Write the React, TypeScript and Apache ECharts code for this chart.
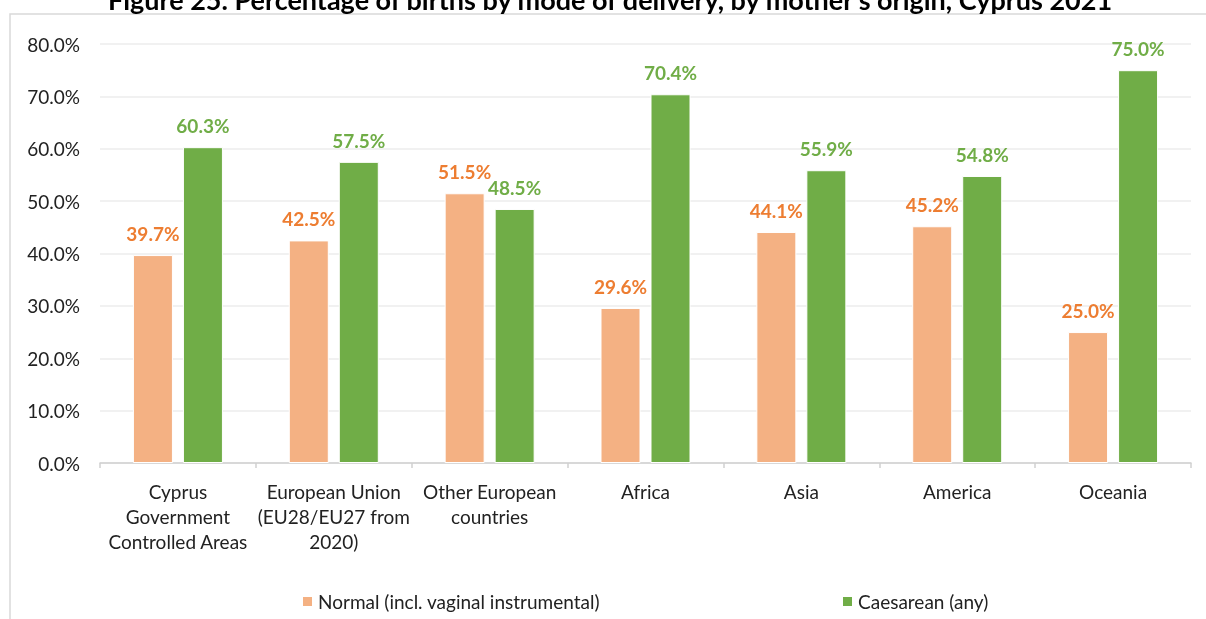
import React, { useEffect, useRef } from "react";
import * as echarts from "echarts";

const categories = [
  "Cyprus\nGovernment\nControlled Areas",
  "European Union\n(EU28/EU27 from\n2020)",
  "Other European\ncountries",
  "Africa",
  "Asia",
  "America",
  "Oceania",
];
const normalValues = [39.7, 42.5, 51.5, 29.6, 44.1, 45.2, 25.0];
const caesareanValues = [60.3, 57.5, 48.5, 70.4, 55.9, 54.8, 75.0];
const seriesNames = ["Normal (incl. vaginal instrumental)", "Caesarean (any)"];
const titleText = "Figure 25. Percentage of births by mode of delivery, by mother's origin, Cyprus 2021";

const FONT = "Lato, 'Noto Sans', sans-serif";

export default function App() {
  const ref = useRef<HTMLDivElement>(null);
  useEffect(() => {
    if (!ref.current) return;
    const chart = echarts.init(ref.current, null, { renderer: "svg" });
    chart.setOption({
      animation: false,
      textStyle: { fontFamily: FONT },
      graphic: [
        {
          type: "rect",
          shape: { x: 10, y: 14, width: 1300, height: 700 },
          style: { fill: "none", stroke: "#d9d9d9", lineWidth: 1.5 },
          silent: true,
          z: -1,
        },
        {
          type: "text",
          x: 610,
          y: -1,
          style: {
            text: titleText,
            fontFamily: FONT,
            fontWeight: "bold",
            fontSize: 27,
            fill: "#000",
            align: "center",
            verticalAlign: "middle",
          },
        },
      ],
      legend: [
        {
          data: [seriesNames[0]],
          left: 296,
          top: 587,
          itemWidth: 11,
          itemHeight: 11,
          itemGap: 6,
          textStyle: { fontFamily: FONT, fontSize: 19, color: "#222" },
          icon: "rect",
        },
        {
          data: [seriesNames[1]],
          left: 836,
          top: 587,
          itemWidth: 11,
          itemHeight: 11,
          itemGap: 6,
          textStyle: { fontFamily: FONT, fontSize: 19, color: "#222" },
          icon: "rect",
        },
      ],
      grid: { left: 100, right: 15, top: 44, bottom: 156, containLabel: false },
      xAxis: {
        type: "category",
        data: categories,
        axisLine: { lineStyle: { color: "#d0d0d0", width: 1.5 } },
        axisTick: { show: true, length: 5, lineStyle: { color: "#d0d0d0", width: 1.5 } },
        axisLabel: {
          interval: 0,
          margin: 16,
          fontFamily: FONT,
          fontSize: 19,
          lineHeight: 25,
          color: "#222",
        },
      },
      yAxis: {
        type: "value",
        min: 0,
        max: 80,
        interval: 10,
        axisLine: { show: false },
        axisTick: { show: false },
        splitLine: { lineStyle: { color: "#ececec", width: 1.5 } },
        axisLabel: {
          margin: 20,
          fontFamily: FONT,
          fontSize: 19,
          color: "#222",
          formatter: (v: number) => v.toFixed(1) + "%",
        },
      },
      series: [
        {
          name: seriesNames[0],
          type: "bar",
          data: normalValues,
          barWidth: 40,
          barGap: "25%",
          itemStyle: { color: "#F4B183", borderColor: "#ffffff", borderWidth: 1 },
          label: {
            show: true,
            position: "top",
            distance: 12,
            fontFamily: FONT,
            fontWeight: "bold",
            fontSize: 19,
            color: "#ED7D31",
            formatter: (p: any) => p.value.toFixed(1) + "%",
          },
        },
        {
          name: seriesNames[1],
          type: "bar",
          data: caesareanValues,
          barWidth: 40,
          barGap: "25%",
          itemStyle: { color: "#70AD47", borderColor: "#ffffff", borderWidth: 1 },
          label: {
            show: true,
            position: "top",
            distance: 12,
            fontFamily: FONT,
            fontWeight: "bold",
            fontSize: 19,
            color: "#70AD47",
            formatter: (p: any) => p.value.toFixed(1) + "%",
          },
        },
      ],
    });
    return () => chart.dispose();
  }, []);
  return (
    <div
      ref={ref}
      style={{ position: "fixed", left: 0, top: 0, width: 1206, height: 619 }}
    />
  );
}
